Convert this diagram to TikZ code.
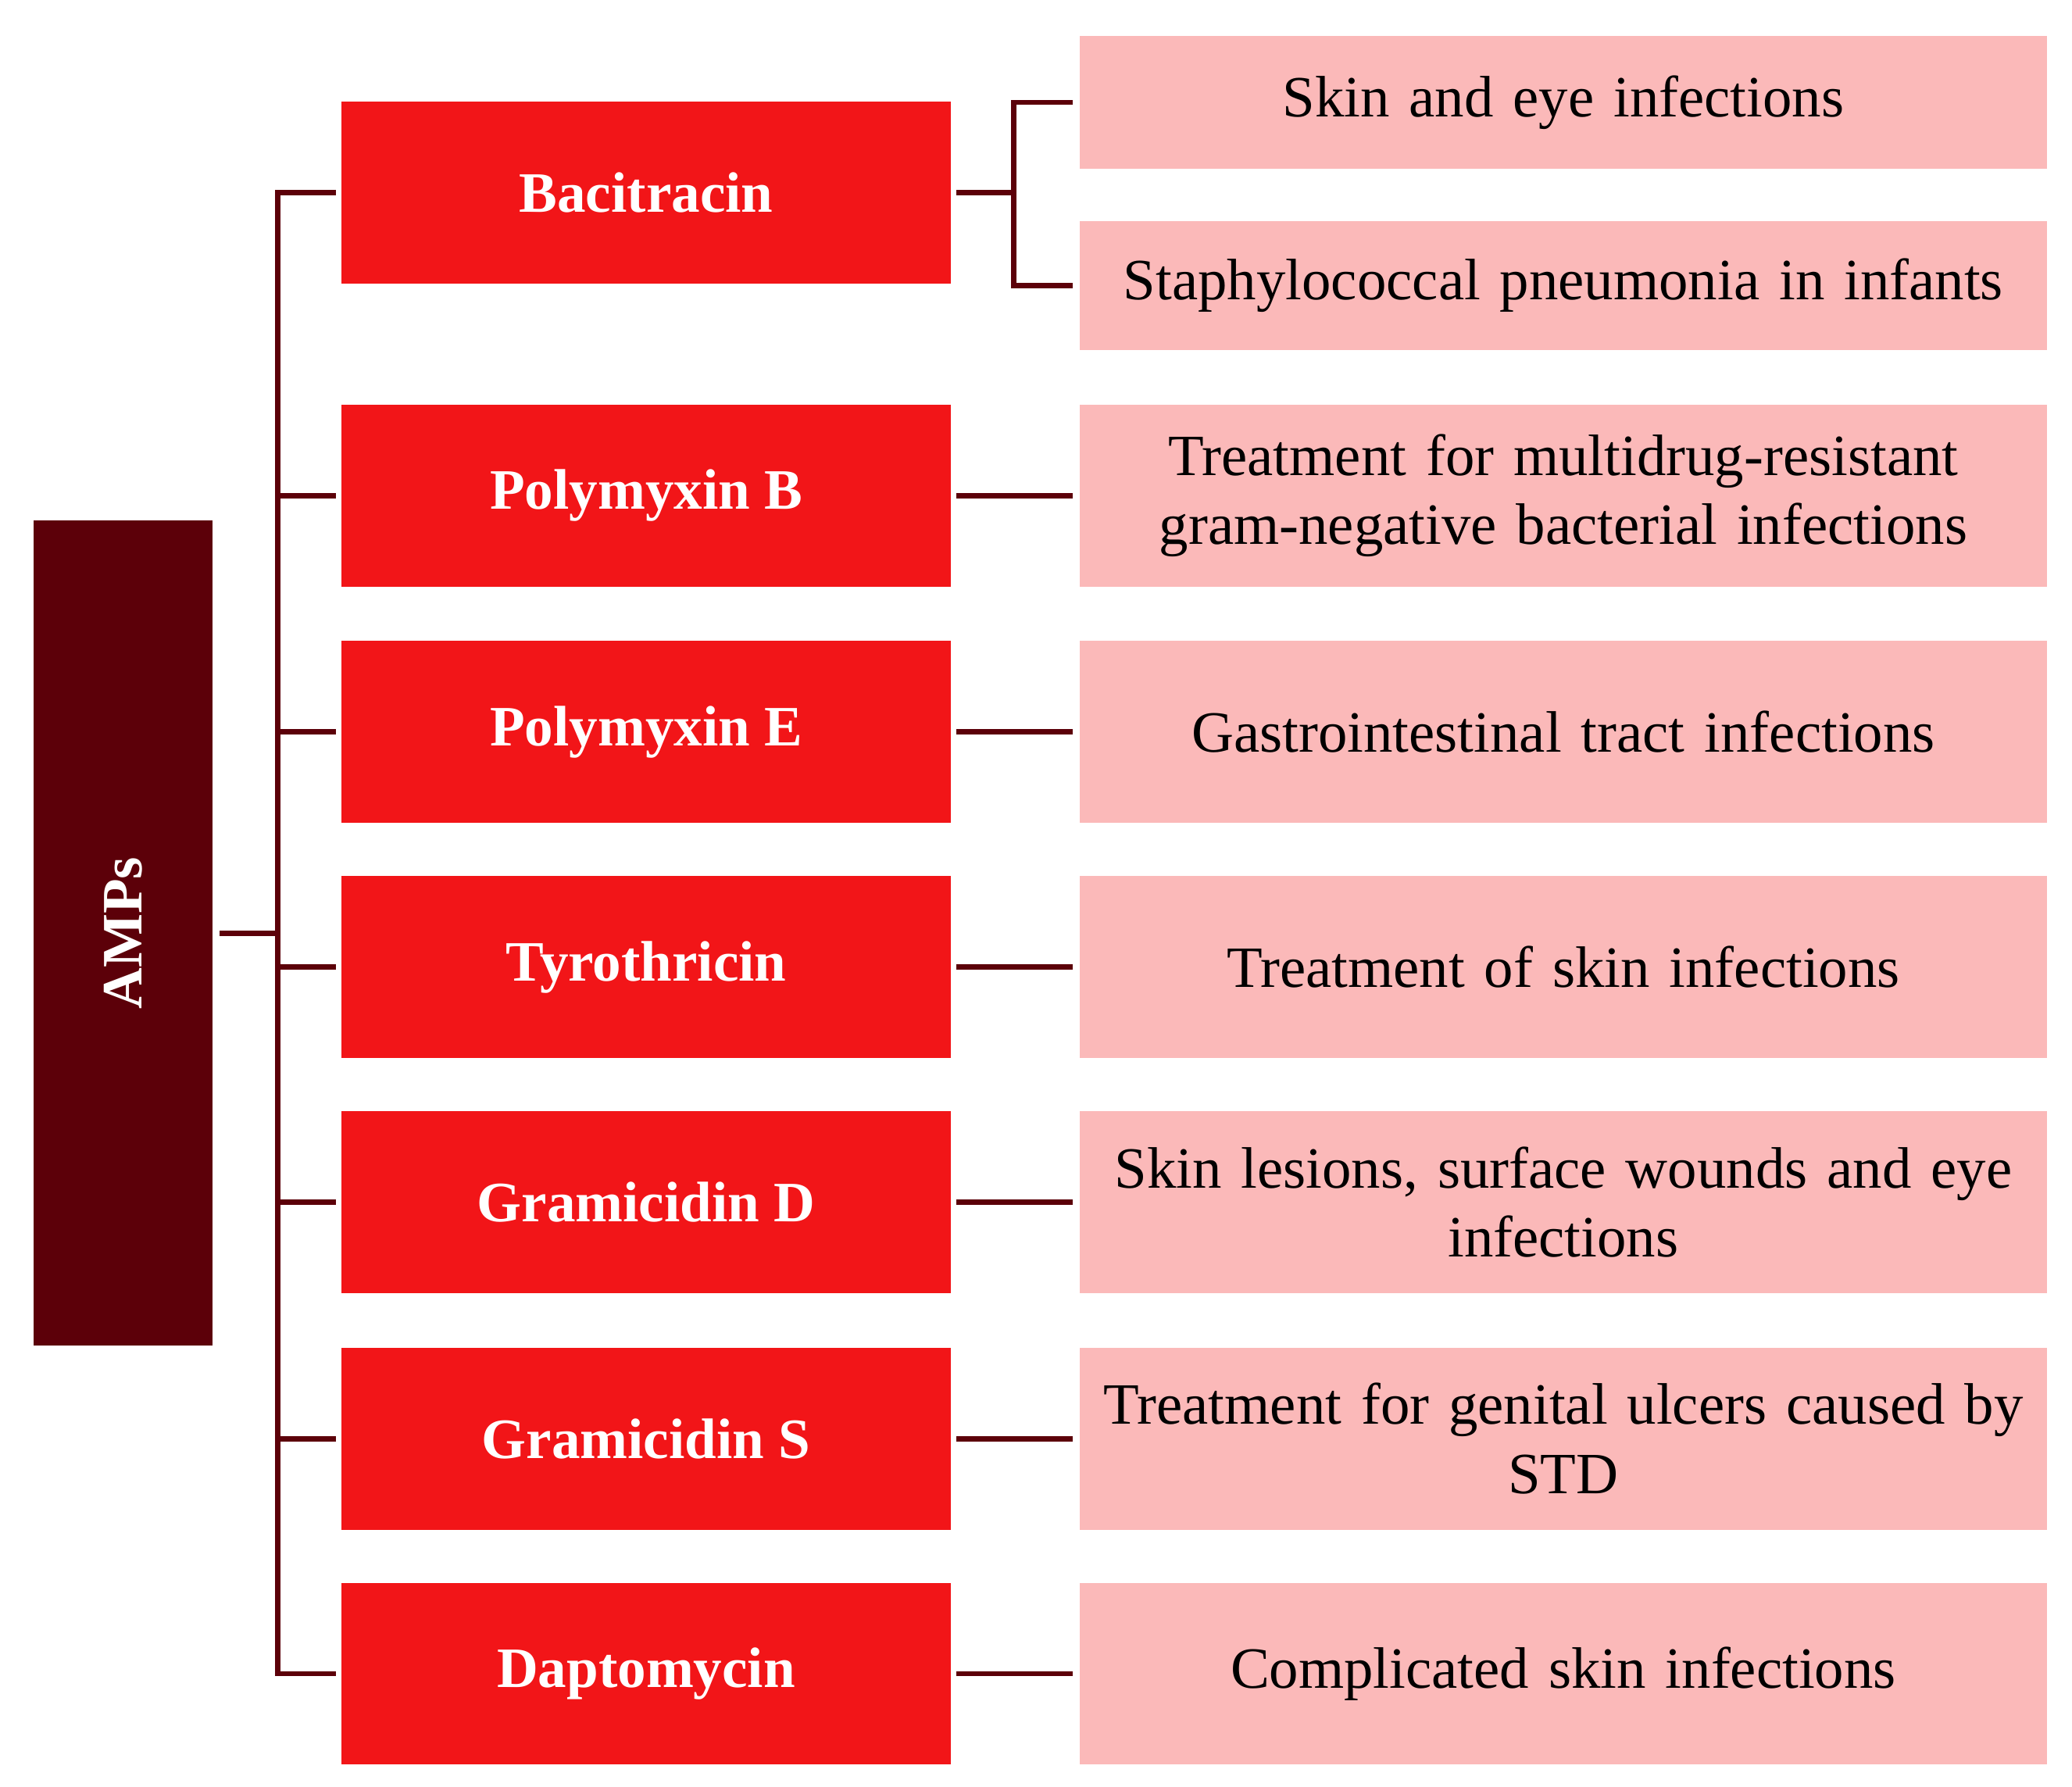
\documentclass[tikz,border=0pt]{standalone}
\usepackage{fontspec}
\setmainfont{Liberation Serif}
\definecolor{dk}{HTML}{5C0009}
\definecolor{rd}{HTML}{F21518}
\definecolor{pk}{HTML}{FBB9B9}
\begin{document}
\begin{tikzpicture}[x=1pt,y=-1pt,
  drug/.style={fill=rd,minimum width=459pt,minimum height=137pt,text=white,font=\fontsize{43}{50}\selectfont\bfseries,inner sep=0pt},
  use/.style={fill=pk,minimum width=728pt,minimum height=137pt,text=black,font=\fontsize{44}{52}\selectfont,align=center,inner sep=0pt,text width=728pt},
  ln/.style={draw=dk,line width=4pt}]
\useasboundingbox (0,0) rectangle (1560,1345);
\node[fill=dk,minimum width=135pt,minimum height=621pt,inner sep=0pt] (amp) at (92.5,702.5) {};
\node[rotate=90,text=white,font=\fontsize{43}{50}\selectfont\bfseries] at (amp.center) {AMPs};
\foreach \n/\y/\t in {d1/145/Bacitracin,d2/373/Polymyxin B,d3/551/Polymyxin E,d4/728/Tyrothricin,d5/905/Gramicidin D,d6/1083/Gramicidin S,d7/1260/Daptomycin}
  \node[drug] (\n) at (486.5,\y) {\t};
\node[use,minimum height=100pt] (u1a) at (1177,77) {Skin and eye infections};
\node[use,minimum height=97pt] (u1b) at (1177,215) {Staphylococcal pneumonia in infants};
\node[use] (u2) at (1177,373) {Treatment for multidrug-resistant\\gram-negative bacterial infections};
\node[use] (u3) at (1177,551) {Gastrointestinal tract infections};
\node[use] (u4) at (1177,728) {Treatment of skin infections};
\node[use] (u5) at (1177,905) {Skin lesions, surface wounds and eye\\infections};
\node[use] (u6) at (1177,1083) {Treatment for genital ulcers caused by\\STD};
\node[use] (u7) at (1177,1260) {Complicated skin infections};
\draw[ln] ([xshift=5pt]amp.east) -- (209,702.5);
\draw[ln] ([xshift=-4pt]d1.west) -| (209,1260) -- ([xshift=-4pt]d7.west);
\foreach \n in {d2,d3,d4,d5,d6} \draw[ln] (209,0 |- \n.west) -- ([xshift=-4pt]\n.west);
\foreach \a/\b in {d2/u2,d3/u3,d4/u4,d5/u5,d6/u6,d7/u7} \draw[ln] ([xshift=4pt]\a.east) -- ([xshift=-5pt]\b.west);
\draw[ln] ([xshift=4pt]d1.east) -- (763,145);
\draw[ln] ([xshift=-5pt]u1a.west) -| (763,145) |- ([xshift=-5pt]u1b.west);
\end{tikzpicture}
\end{document}
